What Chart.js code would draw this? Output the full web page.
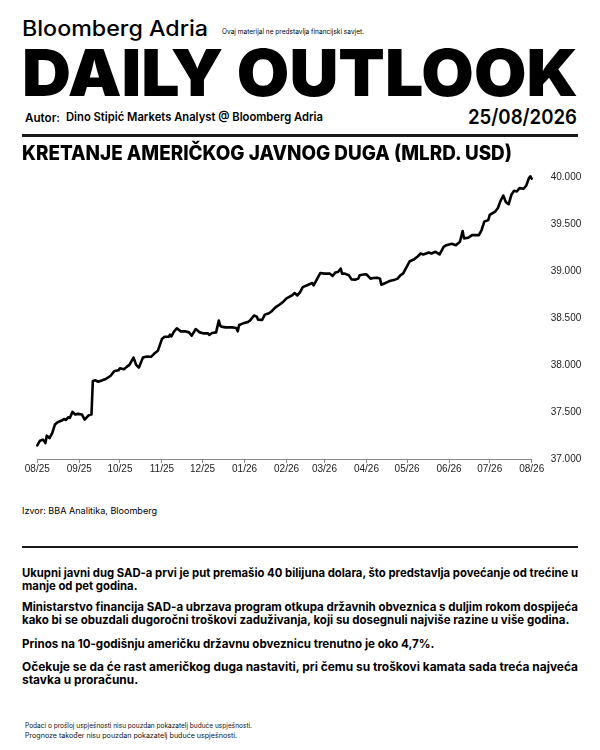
<!DOCTYPE html>
<html>
<head>
<meta charset="utf-8">
<title>Daily Outlook – javni dug SAD-a</title>
<script src="https://cdn.jsdelivr.net/npm/chart.js@4.4.1/dist/chart.umd.min.js"></script>
<style>
  html, body { margin: 0; padding: 0; background: #fff; }
  body {
    width: 600px; height: 750px; position: relative; overflow: hidden;
    color: #000; font-family: 'Inter', 'Liberation Sans', sans-serif;
  }
  .t { position: absolute; white-space: nowrap; line-height: 1; transform-origin: 0 0; }
  .rule { position: absolute; left: 22px; width: 556px; height: 2.5px; background: #1a1a1a; }
  .p { font-weight: 700; font-size: 12px; left: 22px; }
  .small { font-weight: 400; font-size: 7px; left: 25px; color: #111; }
  #chartBox { position: absolute; left: 0; top: 150px; width: 600px; height: 335px; }
</style>
</head>
<body>

<div class="t" data-w="186" style="left:22px; top:17.9px; font-size:21px; font-weight:500;">Bloomberg Adria</div>
<div class="t" data-w="142" style="left:222px; top:28px; font-size:7px;">Ovaj materijal ne predstavlja financijski savjet.</div>
<div class="t" data-w="556" style="left:22px; top:40px; font-size:65px; font-weight:900;">DAILY OUTLOOK</div>
<div class="t" data-w="35" style="left:25px; top:112.5px; font-size:11.5px; font-weight:600;">Autor:</div>
<div class="t" data-w="257" style="left:66px; top:111px; font-size:12px; font-weight:600;">Dino Stipić Markets Analyst @ Bloomberg Adria</div>
<div class="t" data-w="109" style="left:468px; top:107px; font-size:20.6px; font-weight:600;">25/08/2026</div>
<div class="rule" style="top:134px;"></div>

<div id="chartBox"><canvas id="debtChart"></canvas></div>

<div class="t" data-w="490" style="left:22px; top:143px; font-size:20.5px; font-weight:800;">KRETANJE AMERIČKOG JAVNOG DUGA (MLRD. USD)</div>

<div class="t" data-w="135" style="left:22px; top:505.5px; font-size:9px;">Izvor: BBA Analitika, Bloomberg</div>
<div class="rule" style="top:545.5px;"></div>

<div class="t p" data-w="556" data-g="1" style="top:567px;">Ukupni javni dug SAD-a prvi je put premašio 40 bilijuna dolara, što predstavlja povećanje od trećine u</div>
<div class="t p" data-g="1" style="top:579.5px;">manje od pet godina.</div>
<div class="t p" data-w="556" data-g="2" style="top:601px;">Ministarstvo financija SAD-a ubrzava program otkupa državnih obveznica s duljim rokom dospijeća</div>
<div class="t p" data-g="2" style="top:614px;">kako bi se obuzdali dugoročni troškovi zaduživanja, koji su dosegnuli najviše razine u više godina.</div>
<div class="t p" data-g="avg" style="top:638px;">Prinos na 10-godišnju američku državnu obveznicu trenutno je oko 4,7%.</div>
<div class="t p" data-w="556" data-g="4" style="top:661px;">Očekuje se da će rast američkog duga nastaviti, pri čemu su troškovi kamata sada treća najveća</div>
<div class="t p" data-g="4" style="top:674px;">stavka u proračunu.</div>

<div class="t small" data-w="227" style="top:722px;">Podaci o prošloj uspješnosti nisu pouzdan pokazatelj buduće uspješnosti.</div>
<div class="t small" data-w="212" style="top:732px;">Prognoze također nisu pouzdan pokazatelj buduće uspješnosti.</div>

<script>
// Series
const startDate = '2025-08-01';

const dates = [
  '2025-08-01', '2025-08-03', '2025-08-05', '2025-08-06', '2025-08-07', '2025-08-08', '2025-08-10', '2025-08-12',
  '2025-08-14', '2025-08-16', '2025-08-19', '2025-08-21', '2025-08-22', '2025-08-24', '2025-08-25', '2025-08-27',
  '2025-08-29', '2025-08-31', '2025-09-03', '2025-09-05', '2025-09-08', '2025-09-10', '2025-09-11', '2025-09-13',
  '2025-09-15', '2025-09-18', '2025-09-20', '2025-09-24', '2025-09-27', '2025-09-30', '2025-10-01', '2025-10-04',
  '2025-10-06', '2025-10-08', '2025-10-11', '2025-10-13', '2025-10-15', '2025-10-18', '2025-10-21', '2025-10-24',
  '2025-10-26', '2025-10-29', '2025-11-01', '2025-11-03', '2025-11-06', '2025-11-07', '2025-11-08', '2025-11-10',
  '2025-11-12', '2025-11-15', '2025-11-18', '2025-11-21', '2025-11-23', '2025-11-26', '2025-11-29', '2025-12-02',
  '2025-12-05', '2025-12-06', '2025-12-08', '2025-12-11', '2025-12-13', '2025-12-14', '2025-12-15', '2025-12-18',
  '2025-12-23', '2025-12-26', '2025-12-27', '2025-12-28', '2025-12-31', '2026-01-03', '2026-01-05', '2026-01-08',
  '2026-01-10', '2026-01-11', '2026-01-14', '2026-01-16', '2026-01-19', '2026-01-21', '2026-01-24', '2026-01-27',
  '2026-01-30', '2026-02-01', '2026-02-05', '2026-02-07', '2026-02-09', '2026-02-11', '2026-02-13', '2026-02-17',
  '2026-02-20', '2026-02-21', '2026-02-23', '2026-02-26', '2026-03-01', '2026-03-05', '2026-03-07', '2026-03-09',
  '2026-03-11', '2026-03-13', '2026-03-14', '2026-03-16', '2026-03-19', '2026-03-21', '2026-03-24', '2026-03-26',
  '2026-03-27', '2026-03-30', '2026-04-01', '2026-04-04', '2026-04-06', '2026-04-09', '2026-04-11', '2026-04-12',
  '2026-04-15', '2026-04-18', '2026-04-22', '2026-04-24', '2026-04-26', '2026-04-28', '2026-04-30', '2026-05-03',
  '2026-05-06', '2026-05-09', '2026-05-11', '2026-05-13', '2026-05-17', '2026-05-19', '2026-05-22', '2026-05-25',
  '2026-05-28', '2026-05-30', '2026-06-03', '2026-06-06', '2026-06-09', '2026-06-11', '2026-06-12', '2026-06-15',
  '2026-06-18', '2026-06-20', '2026-06-23', '2026-06-25', '2026-06-27', '2026-06-30', '2026-07-01', '2026-07-05',
  '2026-07-07', '2026-07-09', '2026-07-11', '2026-07-13', '2026-07-15', '2026-07-17', '2026-07-19', '2026-07-21',
  '2026-07-23', '2026-07-26', '2026-07-28', '2026-07-30', '2026-07-31', '2026-08-01'
];

const debt = [
  37145, 37195, 37206, 37195, 37169, 37248, 37223, 37276,
  37366, 37391, 37409, 37426, 37415, 37444, 37437, 37501,
  37473, 37480, 37473, 37420, 37466, 37473, 37830, 37837,
  37822, 37837, 37848, 37883, 37937, 37944, 37966, 37955,
  37980, 38001, 38079, 38001, 37972, 38079, 38090, 38087,
  38116, 38151, 38276, 38301, 38301, 38322, 38304, 38358,
  38390, 38358, 38358, 38347, 38312, 38383, 38347, 38336,
  38336, 38319, 38340, 38347, 38472, 38419, 38408, 38400,
  38400, 38394, 38358, 38426, 38443, 38454, 38472, 38526,
  38515, 38483, 38480, 38536, 38550, 38572, 38615, 38644,
  38679, 38708, 38740, 38765, 38740, 38775, 38829, 38854,
  38872, 38847, 38900, 38979, 38972, 38972, 38947, 38983,
  38989, 39026, 38972, 38972, 38954, 38911, 38908, 38919,
  38954, 38962, 38965, 38919, 38925, 38929, 38919, 38854,
  38872, 38893, 38908, 38919, 38954, 38972, 39026, 39104,
  39122, 39157, 39186, 39176, 39197, 39186, 39204, 39176,
  39257, 39275, 39289, 39275, 39311, 39425, 39347, 39353,
  39382, 39382, 39382, 39436, 39525, 39543, 39597, 39632,
  39668, 39746, 39803, 39732, 39711, 39811, 39853, 39846,
  39882, 39875, 39910, 39989, 40007, 39982
];

// Axis ticks
const tickDates = [
  '2025-08-01', '2025-09-01', '2025-10-01', '2025-11-01', '2025-12-01', '2026-01-01', '2026-02-01',
  '2026-03-01', '2026-04-01', '2026-05-01', '2026-06-01', '2026-07-01', '2026-08-01'
];
const tickLabels = ['08/25', '09/25', '10/25', '11/25', '12/25', '01/26', '02/26', '03/26', '04/26', '05/26', '06/26', '07/26', '08/26'];
const yMin = 37000;
const yMax = 40000;
const yStep = 500;

const dayOf = s => (Date.parse(s) - Date.parse(startDate)) / 86400000;
const fmtThousands = v => String(v).replace(/\B(?=(\d{3})+(?!\d))/g, '.');

// squeeze text lines to the widths they have in the reference;
// paragraph lines share the squeeze of their first (full width) line
function fitText() {
  const els = Array.from(document.querySelectorAll('.t'));
  els.forEach(el => { el.style.transform = 'none'; });
  const groupScale = {};
  els.filter(el => el.dataset.w).forEach(el => {
    const w = el.getBoundingClientRect().width;
    const s = w > 0 ? parseFloat(el.dataset.w) / w : 1;
    el.style.transform = 'scaleX(' + s + ')';
    if (el.dataset.g) groupScale[el.dataset.g] = s;
  });
  const list = Object.values(groupScale);
  const avg = list.length ? list.reduce((a, b) => a + b, 0) / list.length : 1;
  els.filter(el => !el.dataset.w && el.dataset.g).forEach(el => {
    const s = el.dataset.g === 'avg' ? avg : (groupScale[el.dataset.g] || avg);
    el.style.transform = 'scaleX(' + s + ')';
  });
}

Chart.defaults.font.family = "'Liberation Sans', Arial, sans-serif";
Chart.defaults.color = '#222';

document.addEventListener('DOMContentLoaded', function () {
  fitText();
  if (document.fonts && document.fonts.ready) document.fonts.ready.then(fitText);

  new Chart(document.getElementById('debtChart'), {
    type: 'line',
    data: {
      datasets: [{
        data: dates.map((d, i) => ({ x: dayOf(d), y: debt[i] })),
        borderColor: '#000',
        borderWidth: 2.6,
        borderJoinStyle: 'round',
        borderCapStyle: 'round',
        pointRadius: 0,
        tension: 0,
        clip: false
      }]
    },
    options: {
      responsive: true,
      maintainAspectRatio: false,
      animation: false,
      layout: { padding: { left: 37.3, top: 27, right: 0, bottom: 0 } },
      plugins: {
        legend: { display: false },
        tooltip: { enabled: false }
      },
      scales: {
        x: {
          type: 'linear',
          min: dayOf(tickDates[0]),
          max: dayOf(tickDates[tickDates.length - 1]),
          afterBuildTicks: axis => { axis.ticks = tickDates.map(d => ({ value: dayOf(d) })); },
          afterFit: axis => { axis.height = 26; },
          grid: { display: true, drawOnChartArea: false, drawTicks: true, tickLength: 4, color: '#888' },
          border: { display: true, color: '#888', width: 1 },
          ticks: {
            padding: 0,
            maxRotation: 0,
            autoSkip: false,
            font: { size: 10 },
            callback: (v, i) => tickLabels[i]
          }
        },
        y: {
          position: 'right',
          min: yMin,
          max: yMax,
          afterFit: axis => { axis.width = 68.3; },
          grid: { display: false },
          border: { display: false },
          ticks: {
            stepSize: yStep,
            padding: 11,
            font: { size: 10 },
            callback: v => fmtThousands(v)
          }
        }
      }
    }
  });
});
</script>
</body>
</html>
